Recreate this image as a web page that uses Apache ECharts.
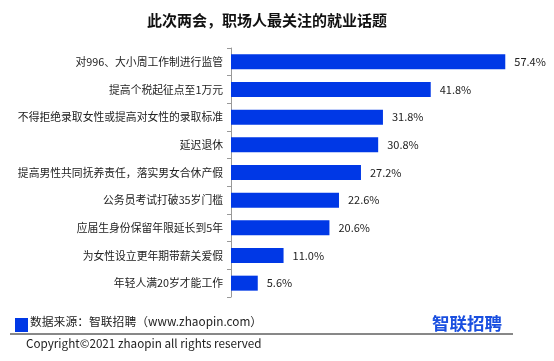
<!DOCTYPE html>
<html><head><meta charset="utf-8">
<script src="https://cdn.jsdelivr.net/npm/echarts@6/dist/echarts.min.js"></script>
<style>html,body{margin:0;padding:0;background:#fff}#c{width:554px;height:361px}</style>
</head><body><div id="c"></div>
<script>
const categories = ['对996、大小周工作制进行监管','提高个税起征点至1万元','不得拒绝录取女性或提高对女性的录取标准','延迟退休','提高男性共同抚养责任，落实男女合休产假','公务员考试打破35岁门槛','应届生身份保留年限延长到5年','为女性设立更年期带薪关爱假','年轻人满20岁才能工作'];
const values = [57.4,41.8,31.8,30.8,27.2,22.6,20.6,11.0,5.6];
const font = '"Noto Sans CJK SC", "Microsoft YaHei", sans-serif';
const chart = echarts.init(document.getElementById('c'));
chart.setOption({
  animation:false,
  textStyle:{fontFamily:font},
  title:{text:'此次两会，职场人最关注的就业话题',left:142,top:8,textStyle:{fontSize:15,fontWeight:'bold',color:'#111',fontFamily:font}},
  grid:{left:231,top:48,width:286.7,height:249,containLabel:false},
  xAxis:{type:'value',min:0,max:60,show:false},
  yAxis:{type:'category',inverse:true,data:categories,
    axisLine:{show:true,lineStyle:{color:'#999'}},
    axisTick:{show:true,length:4,lineStyle:{color:'#999'}},
    axisLabel:{fontSize:10.8,color:'#222',margin:8,fontFamily:font}},
  series:[{type:'bar',data:values,barWidth:15,itemStyle:{color:'#0038E6'},
    label:{show:true,position:'right',distance:9,fontSize:11,color:'#222',formatter:p=>p.value.toFixed(1)+'%'}}],
  graphic:[
    {type:'rect',shape:{x:15,y:318,width:13,height:14},style:{fill:'#0038E6'}},
    {type:'text',x:30,y:322,style:{text:'数据来源：智联招聘（www.zhaopin.com）',font:'11.8px '+font,fill:'#222',textVerticalAlign:'middle'}},
    {type:'line',shape:{x1:10,y1:334,x2:513,y2:334},style:{stroke:'#111',lineWidth:1}},
    {type:'text',x:26,y:344,style:{text:'Copyright©2021 zhaopin all rights reserved',font:'11.7px '+font,fill:'#222',textVerticalAlign:'middle'}},
    {type:'text',x:432,y:323,style:{text:'智联招聘',font:'bold 17.5px '+font,fill:'#1a4fe0',textVerticalAlign:'middle'}}
  ]
});
</script></body></html>
